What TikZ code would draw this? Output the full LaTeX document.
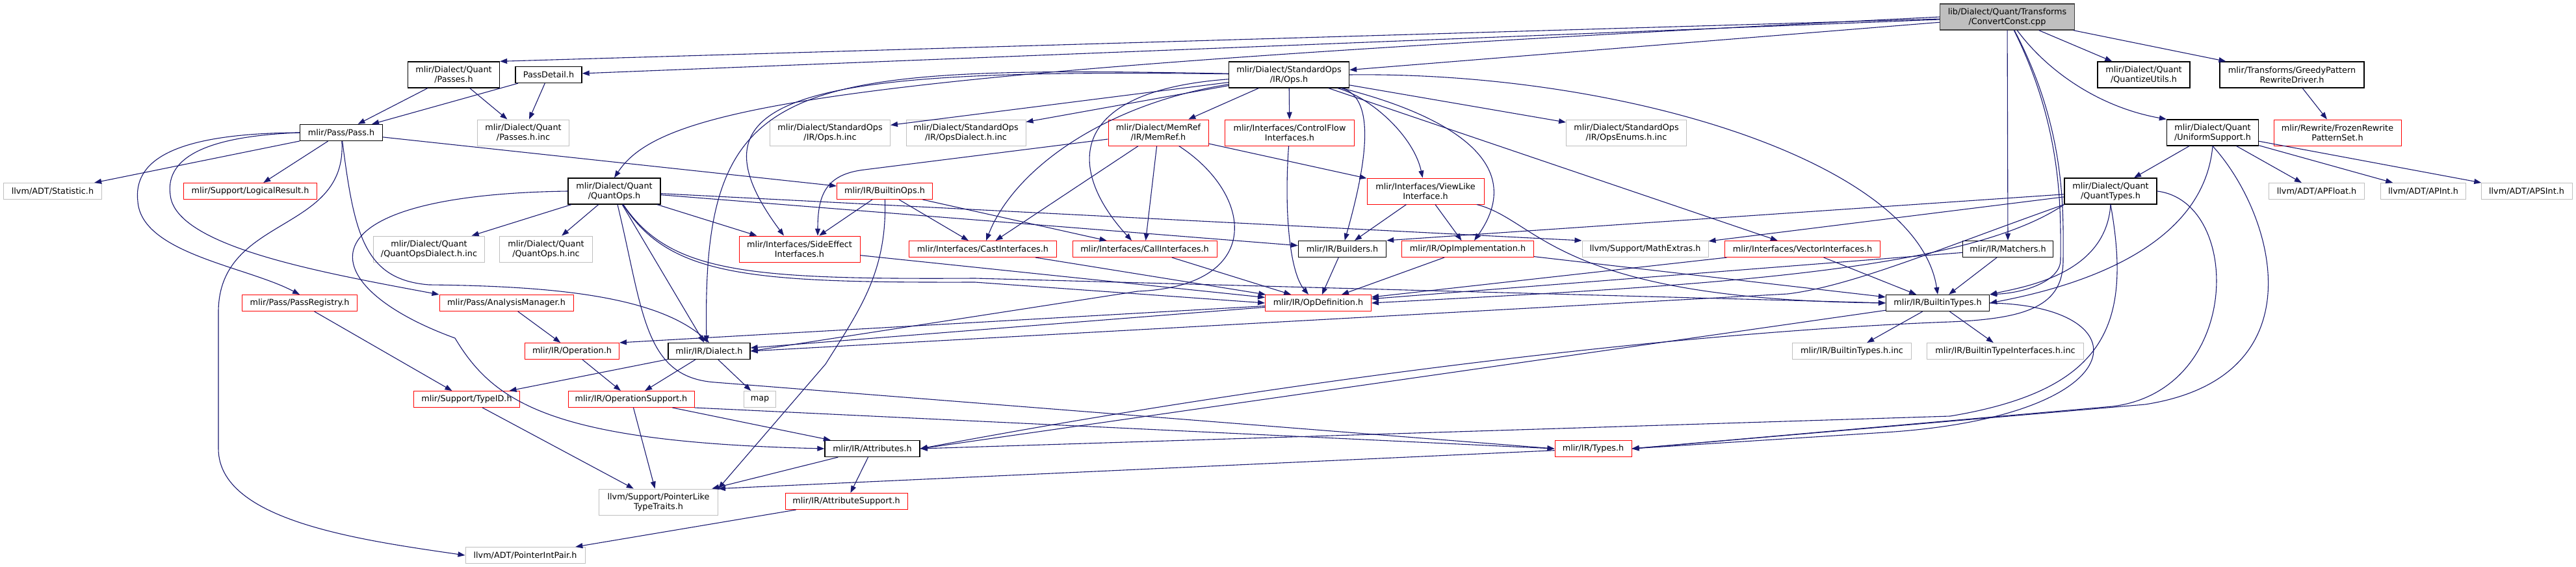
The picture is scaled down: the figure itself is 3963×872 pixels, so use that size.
\documentclass[tikz,border=0pt]{standalone}
\usepackage{fontspec}
\setmainfont{DejaVu Sans}
\usetikzlibrary{arrows.meta}
\definecolor{edgeblue}{HTML}{191970}
\definecolor{rootfill}{HTML}{BFBFBF}
\definecolor{rootline}{HTML}{404040}
\definecolor{extline}{HTML}{BFBFBF}
\definecolor{truncline}{HTML}{FF0000}
\newcommand{\graphfont}{\fontsize{12.8}{15}\selectfont}
\tikzset{
  % --- file boxes of the include graph ---
  hdr/.style={rectangle, draw=black, line width=1.3pt, align=center,
              inner sep=0pt, minimum height=25pt, font=\graphfont, text=black},
  hdrred/.style={hdr, draw=truncline, line width=1pt},
  hdrext/.style={hdr, draw=extline, line width=1pt},
  hdrroot/.style={hdr, draw=rootline, fill=rootfill},
  tall/.style={minimum height=40pt},
  % --- include arrows ---
  incl/.style={-{Triangle[length=11pt,width=8pt]}, draw=edgeblue, line width=1.1pt},
}

\begin{document}
\begin{tikzpicture}[x=1pt, y=-1pt]
  \useasboundingbox (0,0) rectangle (3963,872);

  % --- the source file ---
  \node[hdrroot, tall, minimum width=207pt] (convconst) at (3088,26)
        {lib/Dialect/Quant/Transforms\\/ConvertConst.cpp};

  % --- direct includes ---
  \node[hdr, tall, minimum width=141pt] (qpasses)    at (698,115)  {mlir/Dialect/Quant\\/Passes.h};
  \node[hdr, minimum width=102pt]       (passdetail) at (844,115)  {PassDetail.h};
  \node[hdr, tall, minimum width=185pt] (stdops)     at (1983,115) {mlir/Dialect/StandardOps\\/IR/Ops.h};
  \node[hdr, tall, minimum width=142pt] (quantutils) at (3298,115) {mlir/Dialect/Quant\\/QuantizeUtils.h};
  \node[hdr, tall, minimum width=222pt] (greedy)     at (3526,115) {mlir/Transforms/GreedyPattern\\RewriteDriver.h};

  \node[hdr, minimum width=127pt]          (pass)       at (525,204)  {mlir/Pass/Pass.h};
  \node[hdrext, tall, minimum width=141pt] (passesinc)  at (805,204)  {mlir/Dialect/Quant\\/Passes.h.inc};
  \node[hdrext, tall, minimum width=185pt] (opsinc)     at (1277,204) {mlir/Dialect/StandardOps\\/IR/Ops.h.inc};
  \node[hdrext, tall, minimum width=184pt] (opsdialinc) at (1486,204) {mlir/Dialect/StandardOps\\/IR/OpsDialect.h.inc};
  \node[hdrred, tall, minimum width=154pt] (memref)     at (1782,204) {mlir/Dialect/MemRef\\/IR/MemRef.h};
  \node[hdrred, tall, minimum width=199pt] (cflow)      at (1984,204) {mlir/Interfaces/ControlFlow\\Interfaces.h};
  \node[hdrext, tall, minimum width=185pt] (opsenums)   at (2502,204) {mlir/Dialect/StandardOps\\/IR/OpsEnums.h.inc};
  \node[hdr, tall, minimum width=141pt]    (uniform)    at (3404,204) {mlir/Dialect/Quant\\/UniformSupport.h};
  \node[hdrred, tall, minimum width=196pt] (frozen)     at (3596,204) {mlir/Rewrite/FrozenRewrite\\PatternSet.h};

  \node[hdrext, minimum width=151pt]       (statistic)  at (81,294)   {llvm/ADT/Statistic.h};
  \node[hdrred, minimum width=205pt]       (logical)    at (385,294)  {mlir/Support/LogicalResult.h};
  \node[hdr, tall, minimum width=142pt]    (quantops)   at (945,294)  {mlir/Dialect/Quant\\/QuantOps.h};
  \node[hdrred, minimum width=147pt]       (builtinops) at (1361,294) {mlir/IR/BuiltinOps.h};
  \node[hdrred, tall, minimum width=180pt] (viewlike)   at (2193,294) {mlir/Interfaces/ViewLike\\Interface.h};
  \node[hdr, tall, minimum width=142pt]    (quanttypes) at (3247,294) {mlir/Dialect/Quant\\/QuantTypes.h};
  \node[hdrext, minimum width=147pt]       (apfloat)    at (3564,294) {llvm/ADT/APFloat.h};
  \node[hdrext, minimum width=131pt]       (apint)      at (3728,294) {llvm/ADT/APInt.h};
  \node[hdrext, minimum width=140pt]       (apsint)     at (3887,294) {llvm/ADT/APSInt.h};

  \node[hdrext, tall, minimum width=171pt] (qopsdialinc) at (660,383)  {mlir/Dialect/Quant\\/QuantOpsDialect.h.inc};
  \node[hdrext, tall, minimum width=143pt] (qopsinc)     at (840,383)  {mlir/Dialect/Quant\\/QuantOps.h.inc};
  \node[hdrred, tall, minimum width=186pt] (sideeffect)  at (1230,383) {mlir/Interfaces/SideEffect\\Interfaces.h};
  \node[hdrred, minimum width=227pt]       (castif)      at (1512,383) {mlir/Interfaces/CastInterfaces.h};
  \node[hdrred, minimum width=222pt]       (callif)      at (1761,383) {mlir/Interfaces/CallInterfaces.h};
  \node[hdr, minimum width=135pt]          (builders)    at (2065,383) {mlir/IR/Builders.h};
  \node[hdrred, minimum width=203pt]       (opimpl)      at (2258,383) {mlir/IR/OpImplementation.h};
  \node[hdrext, minimum width=194pt]       (mathextras)  at (2531,383) {llvm/Support/MathExtras.h};
  \node[hdrred, minimum width=239pt]       (vectorif)    at (2773,383) {mlir/Interfaces/VectorInterfaces.h};
  \node[hdr, minimum width=139pt]          (matchers)    at (3089,383) {mlir/IR/Matchers.h};

  \node[hdrred, minimum width=177pt] (passreg)      at (461,466)  {mlir/Pass/PassRegistry.h};
  \node[hdrred, minimum width=206pt] (analysis)     at (779,466)  {mlir/Pass/AnalysisManager.h};
  \node[hdrred, minimum width=163pt] (opdef)        at (2028,466) {mlir/IR/OpDefinition.h};
  \node[hdr, minimum width=159pt]    (builtintypes) at (2981,466) {mlir/IR/BuiltinTypes.h};

  \node[hdrred, minimum width=145pt] (operation)        at (880,540)  {mlir/IR/Operation.h};
  \node[hdr, minimum width=126pt]    (dialect)          at (1091,540) {mlir/IR/Dialect.h};
  \node[hdrext, minimum width=183pt] (builtintypesinc)  at (2849,540) {mlir/IR/BuiltinTypes.h.inc};
  \node[hdrext, minimum width=241pt] (builtintypeifinc) at (3085,540) {mlir/IR/BuiltinTypeInterfaces.h.inc};

  \node[hdrred, minimum width=163pt] (typeid)    at (718,614)  {mlir/Support/TypeID.h};
  \node[hdrred, minimum width=194pt] (opsupport) at (971,614)  {mlir/IR/OperationSupport.h};
  \node[hdrext, minimum width=49pt]  (map)       at (1169,614) {map};

  \node[hdr, minimum width=146pt]    (attributes) at (1342,690) {mlir/IR/Attributes.h};
  \node[hdrred, minimum width=118pt] (types)      at (2451,690) {mlir/IR/Types.h};

  \node[hdrext, tall, minimum width=183pt] (ptrlike)     at (1013,772) {llvm/Support/PointerLike\\TypeTraits.h};
  \node[hdrred, minimum width=188pt]       (attrsupport) at (1302,771) {mlir/IR/AttributeSupport.h};
  \node[hdrext, minimum width=184pt]       (ptrintpair)  at (808,854)  {llvm/ADT/PointerIntPair.h};

  % --- from the source file ---
  \draw[incl] (convconst) -- (qpasses.north east);
  \draw[incl] (convconst) -- (passdetail);
  \draw[incl] (convconst) -- (stdops);
  \draw[incl] (convconst.west) .. controls (1300,110) and (1020,160) .. (quantops.north);
  \draw[incl] (convconst) -- (quantutils);
  \draw[incl] (convconst) -- (greedy);
  \draw[incl] (convconst) .. controls (3150,110) and (3230,165) .. (uniform.north west);
  \draw[incl] (convconst) -- (matchers);
  \draw[incl] (convconst) .. controls (3175,200) and (3170,330) .. (3170,400)
        .. controls (3170,430) and (3120,450) .. (builtintypes.north east);
  \draw[incl] (convconst) .. controls (3180,200) and (3174,330) .. (3174,400)
        .. controls (3174,470) and (3120,490) .. (3000,495)
        .. controls (2600,510) and (2000,580) .. (attributes.east);

  % --- pass headers ---
  \draw[incl] (qpasses) -- (pass);
  \draw[incl] (qpasses) -- (passesinc);
  \draw[incl] (passdetail) -- (pass);
  \draw[incl] (passdetail) -- (passesinc);
  \draw[incl] (greedy) -- (frozen);
  \draw[incl] (pass) -- (statistic);
  \draw[incl] (pass) -- (logical);
  \draw[incl] (pass) -- (builtinops);
  \draw[incl] (pass.west) .. controls (260,205) and (205,250) .. (212,310)
        .. controls (218,390) and (380,410) .. (passreg.north);
  \draw[incl] (pass.west) .. controls (300,210) and (255,250) .. (262,300)
        .. controls (270,380) and (500,420) .. (analysis.north west);
  \draw[incl] (pass) .. controls (535,360) and (336,330) .. (336,480) -- (336,690)
        .. controls (336,800) and (550,830) .. (ptrintpair.west);
  \draw[incl] (pass) .. controls (545,360) and (560,430) .. (660,438)
        .. controls (850,440) and (1010,455) .. (dialect.north);

  % --- standard ops ---
  \draw[incl] (stdops) -- (opsinc);
  \draw[incl] (stdops) -- (opsdialinc);
  \draw[incl] (stdops) -- (memref);
  \draw[incl] (stdops) -- (cflow);
  \draw[incl] (stdops) -- (opsenums);
  \draw[incl] (stdops) -- (vectorif);
  \draw[incl] (stdops) .. controls (1700,160) and (1560,260) .. (castif);
  \draw[incl] (stdops) .. controls (1640,140) and (1640,260) .. ([xshift=-20pt]callif.north);
  \draw[incl] (stdops) .. controls (1250,105) and (1040,140) .. ([xshift=-24pt]sideeffect.north);
  \draw[incl] (stdops) .. controls (1200,100) and (1080,120) .. ([xshift=-4pt]dialect.north);
  \draw[incl] (stdops) .. controls (2120,150) and (2100,260) .. (builders);
  \draw[incl] (stdops) .. controls (2110,150) and (2175,210) .. (viewlike);
  \draw[incl] (stdops) .. controls (2200,170) and (2360,240) .. ([xshift=10pt]opimpl.north);
  \draw[incl] (stdops.east) .. controls (2500,110) and (2950,250) .. (builtintypes.north);

  % --- memref, control flow, builtin ops ---
  \draw[incl] ([yshift=-10pt]memref.west) -- (1330,261)
        .. controls (1270,268) and (1258,300) .. ([xshift=28pt]sideeffect.north);
  \draw[incl] (memref) -- (castif);
  \draw[incl] (memref) -- (callif);
  \draw[incl] (memref) -- (viewlike);
  \draw[incl] (memref) .. controls (1930,300) and (1945,440) .. (1750,448) -- (dialect.east);
  \draw[incl] (cflow) .. controls (1975,330) and (1985,420) .. ([xshift=-15pt]opdef.north);
  \draw[incl] (builtinops) -- (sideeffect);
  \draw[incl] (builtinops) -- (castif);
  \draw[incl] (builtinops) -- (callif);
  \draw[incl] (builtinops) .. controls (1365,420) and (1320,480) .. (1270,560) -- (ptrlike.north east);

  % --- quant ops ---
  \draw[incl] (quantops) -- (qopsdialinc);
  \draw[incl] (quantops) -- (qopsinc);
  \draw[incl] (quantops) -- (sideeffect);
  \draw[incl] (quantops) -- (dialect);
  \draw[incl] (quantops) -- (builders);
  \draw[incl] (quantops) -- (mathextras.north west);
  \draw[incl] (quantops) .. controls (1030,420) and (1150,430) .. (1500,428) -- (builtintypes.west);
  \draw[incl] (quantops) .. controls (1030,425) and (1150,435) .. (1500,434) -- (opdef.west);
  \draw[incl] (quantops) .. controls (990,480) and (990,580) .. (1100,588) -- (types.west);
  \draw[incl] (quantops.west) .. controls (450,300) and (480,440) .. (700,520)
        .. controls (760,620) and (850,680) .. (attributes.west);

  % --- view-like interface ---
  \draw[incl] (viewlike) -- (builders);
  \draw[incl] (viewlike) -- (opimpl);
  \draw[incl] (viewlike) .. controls (2370,340) and (2390,460) .. (builtintypes.west);

  % --- quant types and uniform support ---
  \draw[incl] (quanttypes) -- (builders.north east);
  \draw[incl] (quanttypes) -- (mathextras);
  \draw[incl] (quanttypes.south west) .. controls (3020,420) and (2600,440) .. (opdef.east);
  \draw[incl] (quanttypes.south west) .. controls (2990,380) and (2850,440) .. (2750,452) -- (dialect.east);
  \draw[incl] (quanttypes.south) .. controls (3240,420) and (3120,440) .. (builtintypes.north east);
  \draw[incl] (quanttypes.east) .. controls (3450,310) and (3450,600) .. (3250,625) -- (types.east);
  \draw[incl] (quanttypes.south) .. controls (3280,500) and (3240,600) .. (3000,640) -- (attributes.east);
  \draw[incl] (uniform) -- (quanttypes);
  \draw[incl] (uniform) -- (apfloat);
  \draw[incl] (uniform) -- (apint);
  \draw[incl] (uniform) -- (apsint);
  \draw[incl] (uniform.south) .. controls (3390,380) and (3200,440) .. (builtintypes.east);
  \draw[incl] (uniform.south) .. controls (3500,330) and (3570,580) .. (3300,622) -- (types.east);

  % --- down to the op definitions ---
  \draw[incl] (sideeffect) -- (opdef);
  \draw[incl] (castif) -- (opdef);
  \draw[incl] (callif) -- (opdef);
  \draw[incl] (builders) -- (opdef);
  \draw[incl] (opimpl) -- (opdef);
  \draw[incl] (opimpl) -- (builtintypes);
  \draw[incl] (vectorif) -- (opdef);
  \draw[incl] (vectorif) -- (builtintypes);
  \draw[incl] (matchers) -- (opdef);
  \draw[incl] (matchers) -- (builtintypes);
  \draw[incl] (opdef) -- (operation.north east);
  \draw[incl] (opdef) -- (dialect);
  \draw[incl] (builtintypes) -- (builtintypesinc);
  \draw[incl] (builtintypes) -- (builtintypeifinc);
  \draw[incl] (builtintypes.east) .. controls (3300,470) and (3290,640) .. (2900,665) -- (types.east);
  \draw[incl] (builtintypes) -- (attributes.east);

  % --- IR core ---
  \draw[incl] (passreg) -- (typeid);
  \draw[incl] (analysis) -- (operation);
  \draw[incl] (operation) -- (opsupport);
  \draw[incl] (dialect) -- (typeid);
  \draw[incl] (dialect) -- (opsupport);
  \draw[incl] (dialect) -- (map);
  \draw[incl] (typeid) -- (ptrlike);
  \draw[incl] (opsupport) -- (ptrlike);
  \draw[incl] (opsupport) -- (attributes);
  \draw[incl] (opsupport.south east) -- (types.west);
  \draw[incl] (attributes) -- (attrsupport);
  \draw[incl] (attributes) -- (ptrlike);
  \draw[incl] (types) -- (ptrlike.north east);
  \draw[incl] (attrsupport) -- (ptrintpair);
\end{tikzpicture}
\end{document}
